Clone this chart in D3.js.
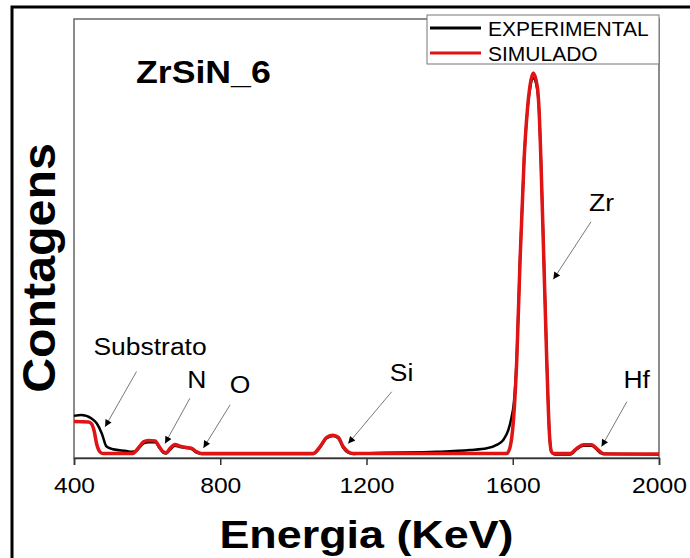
<!DOCTYPE html>
<html>
  <head>
    <meta charset='utf-8'>
    <title>ZrSiN_6 RBS</title>
    <script src='https://d3js.org/d3.v7.min.js'></script>
    <style>
      body { margin: 0; background: #fff; }
      text { font-family: Arial, 'Liberation Sans', sans-serif; }
    </style>
  </head>

  <body>
    <div id='grafico'></div>
    <script>
    // Datos (energía en keV, cuentas en unidades arbitrarias)
    const expEnergy = [400, 420, 448, 462, 476, 489, 507, 544, 558, 570, 580, 590, 603, 622, 633, 644, 652, 663, 676, 690, 708, 722, 736, 749,
                       1054, 1073, 1091, 1109, 1123, 1136, 1150, 1164, 1210, 1392, 1483, 1529, 1556, 1574, 1588, 1597, 1603, 1611, 1620,
                       1631, 1640, 1647, 1656, 1667, 1672, 1677, 1685, 1693, 1700, 1706, 1715, 1757, 1775, 1793, 1816, 1829, 1843, 2000];
    const expCounts = [96, 98, 90, 79, 56, 26, 20, 16, 14, 16, 25, 33, 36, 36, 24, 12, 10, 19, 28, 25, 23, 20, 12, 9,
                       9, 24, 45, 50, 45, 24, 12, 9, 11, 14, 18, 22, 30, 41, 64, 94, 125, 230, 455,
                       680, 790, 840, 865, 840, 790, 680, 455, 225, 60, 14, 8, 8, 20, 28, 28, 20, 10, 8];

    const simEnergy = [400, 440, 448, 455, 462, 471, 480, 560, 567, 580, 590, 603, 622, 633, 644, 652, 663, 676, 690, 708, 722, 736, 749,
                       1054, 1073, 1091, 1109, 1123, 1136, 1150, 1164, 1583, 1591, 1602, 1611, 1620, 1631, 1640, 1647, 1656,
                       1667, 1672, 1677, 1685, 1693, 1700, 1706, 1712, 1757, 1775, 1793, 1816, 1829, 1843, 1850, 2000];
    const simCounts = [83, 82, 78, 62, 32, 14, 10, 10, 14, 27, 37, 40, 39, 26, 14, 12, 22, 31, 27, 24, 22, 14, 10,
                       10, 26, 47, 52, 47, 26, 14, 10, 10, 20, 87, 223, 451, 679, 793, 847, 877,
                       847, 793, 679, 451, 223, 60, 14, 10, 10, 22, 30, 30, 22, 12, 9, 9];

    const xTicks = [400, 800, 1200, 1600, 2000];
    const legendLabels = ['EXPERIMENTAL', 'SIMULADO'];
    const seriesColors = ['#000000', '#e01414'];

    // Etiquetas de los picos: posición del texto y de la flecha en unidades de datos
    const peakNames  = ['Substrato', 'N', 'O', 'Si', 'Zr', 'Hf'];
    const labelE     = [608, 736, 854, 1296, 1843, 1939];
    const labelC     = [253, 178, 166, 193, 580, 178];
    const arrowFromE = [571, 717, 827, 1269, 1814, 1912];
    const arrowFromC = [197, 136, 121, 151, 538, 128];
    const arrowToE   = [485, 649, 754, 1150, 1711, 1843];
    const arrowToC   = [71, 33, 23, 33, 407, 26];

    // Canvas y márgenes
    const W = 690, H = 558;
    const margin = { top: 19, right: 31, bottom: 100, left: 74 },
          width  = W - margin.left - margin.right,
          height = H - margin.top - margin.bottom;

    // El texto del original está algo ensanchado en horizontal
    function stretch(sel, k) {
      sel.attr('lengthAdjust', 'spacingAndGlyphs')
         .attr('textLength', function() { return this.getComputedTextLength() * k; });
    }

    const root = d3.select('#grafico').append('svg')
                   .attr('width', W)
                   .attr('height', H);

    // Marco exterior
    root.append('rect')
        .attr('x', 12).attr('y', 7)
        .attr('width', W).attr('height', H)
        .attr('fill', 'none')
        .attr('stroke', '#000')
        .attr('stroke-width', 3);

    const svg = root.append('g')
                    .attr('transform', 'translate(' + margin.left + ',' + margin.top + ')');

    // Escalas
    const xScale = d3.scaleLinear().domain([400, 2000]).range([0, width]);
    const yScale = d3.scaleLinear().domain([0, 1000]).range([height, 0]);

    // Marco del gráfico
    svg.append('rect')
       .attr('width', width).attr('height', height)
       .attr('fill', 'none')
       .attr('stroke', '#666')
       .attr('stroke-width', 1.5);

    // Curvas
    const line = d3.line()
      .x(d => xScale(d[0]))
      .y(d => yScale(d[1]))
      .curve(d3.curveMonotoneX);

    const expData = expEnergy.map((e, i) => [e, expCounts[i]]);
    const simData = simEnergy.map((e, i) => [e, simCounts[i]]);

    svg.append('path')
       .datum(expData)
       .attr('d', line)
       .attr('fill', 'none')
       .attr('stroke', seriesColors[0])
       .attr('stroke-width', 2.5);

    svg.append('path')
       .datum(simData)
       .attr('d', line)
       .attr('fill', 'none')
       .attr('stroke', seriesColors[1])
       .attr('stroke-width', 3.5);

    // Eje X
    const xAxis = d3.axisBottom(xScale)
      .tickValues(xTicks)
      .tickSize(7)
      .tickFormat(d3.format('d'));

    const gx = svg.append('g')
       .attr('transform', 'translate(0,' + height + ')')
       .call(xAxis);
    gx.select('.domain').attr('stroke', '#333').attr('stroke-width', 1.5);
    gx.selectAll('.tick line').attr('stroke', '#333').attr('stroke-width', 1.5);
    gx.selectAll('.tick text')
      .attr('y', 35)
      .attr('dy', null)
      .attr('font-size', 22)
      .attr('fill', '#000')
      .call(stretch, 1.12);

    // Títulos de ejes
    svg.append('text')
       .attr('x', width / 2)
       .attr('y', height + 90)
       .attr('text-anchor', 'middle')
       .attr('font-size', 39)
       .attr('font-weight', 'bold')
       .text('Energia (KeV)')
       .call(stretch, 1.15);

    svg.append('text')
       .attr('transform', 'translate(' + (55 - margin.left) + ',' + (268 - margin.top) + ') rotate(-90)')
       .attr('text-anchor', 'middle')
       .attr('font-size', 46)
       .attr('font-weight', 'bold')
       .text('Contagens')
       .call(stretch, 1.05);

    // Nombre de la muestra
    svg.append('text')
       .attr('x', 62)
       .attr('y', 64)
       .attr('font-size', 31)
       .attr('font-weight', 'bold')
       .text('ZrSiN_6')
       .call(stretch, 1.15);

    // Flechas y etiquetas de picos
    root.append('defs').append('marker')
        .attr('id', 'punta')
        .attr('viewBox', '0 0 10 10')
        .attr('refX', 10).attr('refY', 5)
        .attr('markerWidth', 9).attr('markerHeight', 7)
        .attr('markerUnits', 'userSpaceOnUse')
        .attr('orient', 'auto')
        .append('path')
        .attr('d', 'M0,0 L10,5 L0,10 Z')
        .attr('fill', '#000');

    peakNames.forEach((name, i) => {
      svg.append('line')
         .attr('x1', xScale(arrowFromE[i])).attr('y1', yScale(arrowFromC[i]))
         .attr('x2', xScale(arrowToE[i])).attr('y2', yScale(arrowToC[i]))
         .attr('stroke', '#555')
         .attr('stroke-width', 0.8)
         .attr('marker-end', 'url(#punta)');
      svg.append('text')
         .attr('x', xScale(labelE[i]))
         .attr('y', yScale(labelC[i]))
         .attr('dy', '0.35em')
         .attr('text-anchor', 'middle')
         .attr('font-size', 23)
         .text(name)
         .call(stretch, 1.15);
    });

    // Leyenda
    const leg = svg.append('g').attr('transform', 'translate(' + (427 - margin.left) + ',' + (15 - margin.top) + ')');
    leg.append('rect')
       .attr('width', 232).attr('height', 49)
       .attr('fill', '#fff')
       .attr('stroke', '#777')
       .attr('stroke-width', 1);
    legendLabels.forEach((lab, i) => {
      const yy = 13 + i * 25;
      leg.append('line')
         .attr('x1', 3).attr('x2', 54)
         .attr('y1', yy).attr('y2', yy)
         .attr('stroke', seriesColors[i])
         .attr('stroke-width', 3);
      leg.append('text')
         .attr('x', 61).attr('y', yy)
         .attr('dy', '0.36em')
         .attr('font-size', 21)
         .text(lab);
    });
    </script>
  </body>
</html>
